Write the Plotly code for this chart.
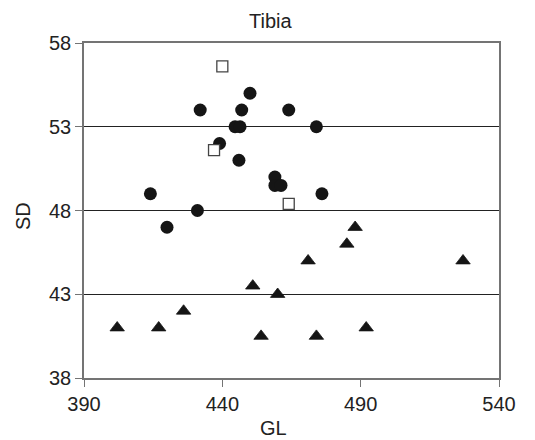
import plotly.graph_objects as go

# Circles
circ_x = [432, 447, 464, 450, 444.6, 446.4, 474, 439, 446, 459, 459, 461.2, 414, 476, 420, 431]
circ_y = [54, 54, 54, 55, 53, 53, 53, 52, 51, 50, 49.5, 49.5, 49, 49, 47, 48]
# Squares
sq_x = [440, 437, 464]
sq_y = [56.6, 51.6, 48.4]
# Triangles
tri_x = [488, 485, 471, 527, 451, 460, 402, 417, 426, 454, 474, 492]
tri_y = [47, 46, 45, 45, 43.5, 43, 41, 41, 42, 40.5, 40.5, 41]

x_ticks = [390, 440, 490, 540]
y_ticks = [38, 43, 48, 53, 58]

FONT = "Liberation Sans, Arial, sans-serif"
TXT = "#222222"

# page body has an 8px margin: figure sized so that it fills the 535x440 window
W, H = 527, 432
L, R, T, B = 76, 36, 35, 62
PW, PH = W - L - R, H - T - B


def px_to_paper(sx, sy):
    fx, fy = sx - 8, sy - 8
    return (fx - L) / PW, 1 - (fy - T) / PH


fig = go.Figure()
fig.add_trace(go.Scatter(x=tri_x, y=tri_y, mode="markers",
                         marker=dict(symbol="triangle-up", size=12.5, color="#151515",
                                     line=dict(width=0.8, color="#151515")), showlegend=False))
fig.add_trace(go.Scatter(x=circ_x, y=circ_y, mode="markers",
                         marker=dict(symbol="circle", size=13, color="#151515",
                                     line=dict(width=0)), showlegend=False))
fig.add_trace(go.Scatter(x=sq_x, y=sq_y, mode="markers",
                         marker=dict(symbol="square", size=11, color="white",
                                     line=dict(width=1.3, color="#444444")), showlegend=False))

tx, ty = px_to_paper(270, 8)
gx, gy = px_to_paper(273, 428)
sx, sy = px_to_paper(23, 216)

fig.update_layout(
    width=W, height=H,
    margin=dict(l=L, r=R, t=T, b=B, pad=0),
    paper_bgcolor="white", plot_bgcolor="white",
    font=dict(family=FONT, color=TXT),
    xaxis=dict(range=[390, 540], tickvals=x_ticks, ticktext=[str(v) for v in x_ticks],
               showgrid=False, zeroline=False, showline=True, linecolor="#747474",
               linewidth=1.5, mirror=True, ticks="outside", ticklen=7, tickwidth=1.3,
               tickcolor="#747474", tickfont=dict(size=20, family=FONT, color=TXT)),
    yaxis=dict(range=[38, 58], tickvals=y_ticks, ticktext=[str(v) for v in y_ticks],
               showgrid=True, gridcolor="#222222", gridwidth=1, zeroline=False,
               showline=True, linecolor="#747474", linewidth=1.5, mirror=True,
               ticks="outside", ticklen=7, tickwidth=1.3, tickcolor="#747474",
               tickfont=dict(size=20, family=FONT, color=TXT)),
    annotations=[
        dict(text="Tibia", xref="paper", yref="paper", x=tx, y=ty,
             xanchor="center", yanchor="top", showarrow=False,
             font=dict(size=20, family=FONT, color=TXT)),
        dict(text="GL", xref="paper", yref="paper", x=gx, y=gy,
             xanchor="center", yanchor="middle", showarrow=False,
             font=dict(size=20, family=FONT, color=TXT)),
        dict(text="SD", xref="paper", yref="paper", x=sx, y=sy,
             xanchor="center", yanchor="middle", textangle=-90, showarrow=False,
             font=dict(size=20, family=FONT, color=TXT)),
    ],
)

fig.write_html("out.html")
